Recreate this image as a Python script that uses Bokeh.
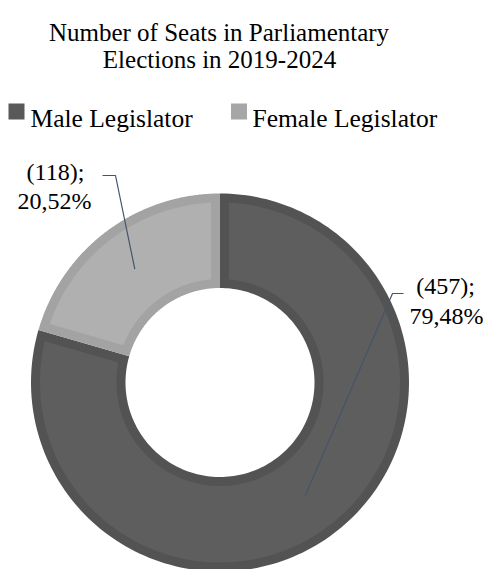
import math
from bokeh.plotting import figure
from bokeh.models import Range1d
from bokeh.core.properties import value
from bokeh.embed import file_html
from bokeh.resources import INLINE

# ---- data ----
categories = ["Male Legislator", "Female Legislator"]
seats = [457, 118]
title_lines = ["Number of Seats in Parliamentary", "Elections in 2019-2024"]

# ---- styles ----
fill_colors = ["#5e5e5e", "#b0b0b0"]
border_colors = ["#535353", "#a3a3a3"]
legend_colors = ["#595959", "#a6a6a6"]
leader_color = "#44546a"
FONT = value("Liberation Serif")

W, H = 486, 569


def sy(y):  # screen y -> data y
    return H - y


p = figure(width=W, height=H, output_backend="svg", toolbar_location=None,
           x_range=Range1d(0, W), y_range=Range1d(0, H),
           x_axis_location=None, y_axis_location=None, min_border=0,
           outline_line_color=None, background_fill_color="white")
p.grid.visible = False

# donut geometry (pixels)
cx, cy = 219.5, sy(382)
r_out, r_in = 189.0, 94.5
border = 9.0

total = sum(seats)
fracs = [s / total for s in seats]

# angles: start at 12 o'clock, slices go clockwise
angles = []
a_end = 90.0
for f in fracs:
    a_start = a_end - f * 360.0
    angles.append((a_start, a_end))
    a_end = a_start


def sector(a0, a1, ri, ro, inset, n=180):
    xs, ys = [], []
    r = ro - inset
    d = math.degrees(math.asin(min(1, inset / r))) if inset > 0 else 0
    for i in range(n + 1):
        a = math.radians(a0 + d + (a1 - a0 - 2 * d) * i / n)
        xs.append(cx + r * math.cos(a))
        ys.append(cy + r * math.sin(a))
    r = ri + inset
    d = math.degrees(math.asin(min(1, inset / r))) if inset > 0 else 0
    for i in range(n + 1):
        a = math.radians(a1 - d - (a1 - a0 - 2 * d) * i / n)
        xs.append(cx + r * math.cos(a))
        ys.append(cy + r * math.sin(a))
    return xs, ys


bxs, bys, fxs, fys = [], [], [], []
for (a0, a1) in angles:
    x, y = sector(a0, a1, r_in, r_out, 0)
    bxs.append(x); bys.append(y)
    x, y = sector(a0, a1, r_in, r_out, border)
    fxs.append(x); fys.append(y)

p.patches(bxs, bys, fill_color=border_colors, line_color=None)
p.patches(fxs, fys, fill_color=fill_colors, line_color=None)

# leader lines from mid of each slice ring
r_mid = (r_in + r_out) / 2
elbows = [(392, 293, 403), (115, 175, 102)]  # (elbow x, screen y, end x)
for (a0, a1), (ex, ey, endx) in zip(angles, elbows):
    am = math.radians((a0 + a1) / 2)
    px, py = cx + r_mid * math.cos(am), cy + r_mid * math.sin(am)
    p.line([px, ex, endx], [py, sy(ey), sy(ey)], line_color=leader_color, line_width=1.2)

# data labels
pcts = [f"{f * 100:.2f}".replace(".", ",") + "%" for f in fracs]
label_pos = [((445, 285), (446, 315)), ((55, 171), (54, 200))]
lx, ly, lt = [], [], []
for s, pc, ((x1, y1), (x2, y2)) in zip(seats, pcts, label_pos):
    lx += [x1, x2]; ly += [sy(y1), sy(y2)]; lt += [f"({s});", pc]
p.text(lx, ly, text=lt, text_font=FONT, text_font_size="24px",
       text_align="center", text_baseline="alphabetic", text_color="black")

# title
p.text([218.5, 219], [sy(32), sy(59)], text=title_lines, text_font=FONT,
       text_font_size="25px", text_align="center", text_baseline="alphabetic",
       text_color="black")

# legend
sw_x = [16, 238.5]
tx_x = [30, 252]
p.scatter(sw_x, [sy(111)] * 2, marker="square", size=16, fill_color=legend_colors,
          line_color=None)
p.text(tx_x, [sy(118)] * 2, text=categories, text_font=FONT, text_font_size="25.5px",
       text_align="left", text_baseline="alphabetic", text_color="black")

open("out.html", "w").write(file_html(p, INLINE))
